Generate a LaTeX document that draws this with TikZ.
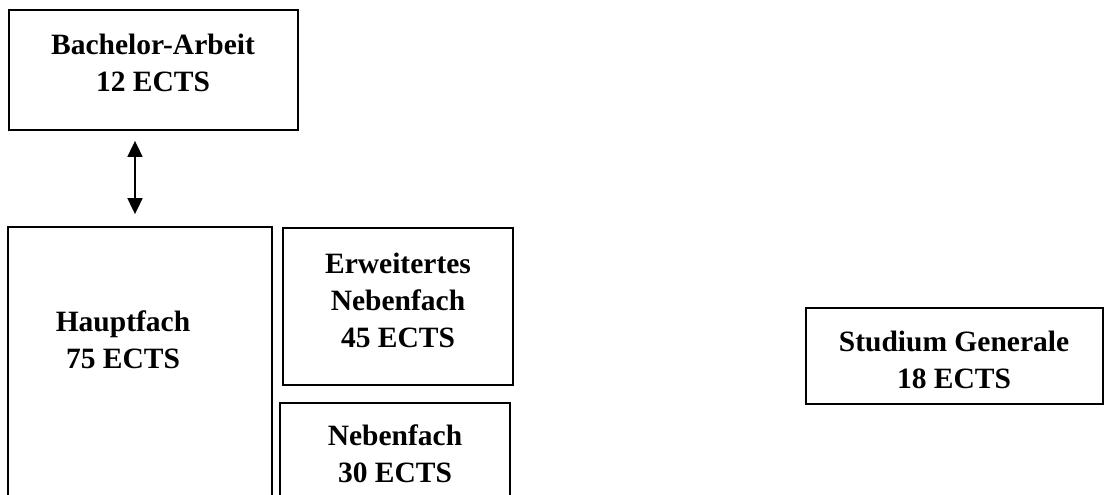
\documentclass[tikz,border=0pt]{standalone}
\usepackage{fontspec}
\setmainfont{Liberation Serif}
\usetikzlibrary{arrows.meta}
\begin{document}
\begin{tikzpicture}[x=1pt, y=1pt,
    box/.style={draw, line width=1.8pt, inner sep=0pt},
    txt/.style={align=center, font=\fontsize{29.5}{37}\selectfont\bfseries},
    arr/.style={{Triangle[width=15pt,length=16pt]}-{Triangle[width=15pt,length=16pt]}, line width=1.8pt}
  ]
  \useasboundingbox (0,0) rectangle (1109,-495);
  \clip (0,0) rectangle (1109,-495);
  % Bachelor-Arbeit
  \node[box, minimum width=289pt, minimum height=120pt] (bach) at (153.5,-70) {};
  \node[txt] (bachtxt) at (153,-63) {Bachelor-Arbeit\\12 ECTS};
  % Hauptfach
  \node[box, minimum width=264pt, minimum height=293pt] (haupt) at (140,-373.5) {};
  \node[txt] (hauptxt) at (123,-340) {Hauptfach\\75 ECTS};
  % Nebenfaecher
  \node[box, minimum width=230pt, minimum height=157pt] (erw) at (398,-306.5) {};
  \node[txt] (erwtxt) at (398,-300) {Erweitertes\\Nebenfach\\45 ECTS};
  \node[box, minimum width=230pt, minimum height=117pt] (neben) at (395,-461.5) {};
  \node[txt] (nebentxt) at (395,-454) {Nebenfach\\30 ECTS};
  % Studium Generale
  \node[box, minimum width=297pt, minimum height=96pt] (stud) at (954.5,-356) {};
  \node[txt] (studtxt) at (954,-360) {Studium Generale\\18 ECTS};
  % Verbindung
  \draw[arr] ([xshift=-5pt, yshift=-10pt]bach.south -| haupt.north)
    -- ([xshift=-5pt, yshift=12pt]haupt.north);
\end{tikzpicture}
\end{document}
